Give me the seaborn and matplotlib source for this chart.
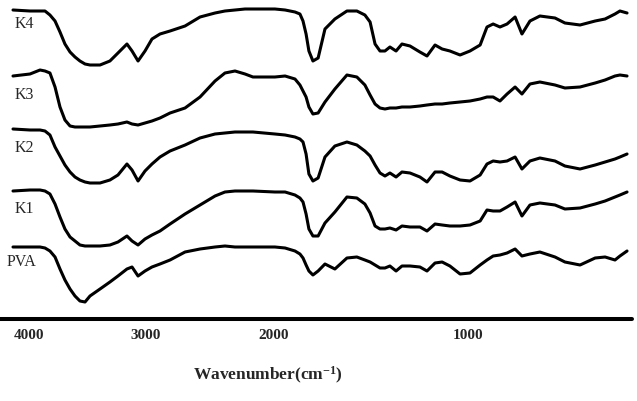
import numpy as np
import pandas as pd
import matplotlib
matplotlib.use("Agg")
import matplotlib.pyplot as plt
import seaborn as sns

# wavenumber grid (cm-1) and offset transmittance of each sample
wavenumber = [4000, 3856, 3771, 3729, 3687, 3644, 3602, 3560, 3517, 3475,
              3433, 3390, 3348, 3263, 3179, 3111, 3035, 2992, 2941, 2882,
              2823, 2755, 2670, 2543, 2416, 2289, 2205, 2120, 2035, 1984,
              1891, 1848, 1806, 1785, 1772, 1759, 1747, 1730, 1708, 1679,
              1637, 1586, 1544, 1510, 1488, 1467, 1446, 1425, 1404, 1378,
              1353, 1319, 1277, 1247, 1213, 1183, 1150, 1107, 1065, 1022,
              993, 967, 938, 908, 874, 845, 811, 769, 705, 663,
              599, 535, 493, 451, 430, 400]

k4 = [309, 308, 308, 308, 304, 298, 287, 275, 267, 262,
      258, 255, 254, 254, 258, 266, 275, 268, 258, 268,
      280, 285, 288, 293, 302, 306, 308, 309, 310, 310,
      310, 309, 307, 305, 298, 285, 268, 258, 261, 290,
      300, 308, 308, 304, 297, 275, 268, 268, 272, 268,
      275, 273, 267, 263, 274, 270, 268, 264, 268, 274,
      292, 295, 292, 295, 302, 285, 298, 303, 301, 296,
      294, 298, 300, 305, 308, 306]

k3 = [243, 245, 249, 248, 246, 232, 212, 199, 193, 192,
      192, 192, 192, 193, 194, 195, 197, 195, 194, 196,
      198, 201, 206, 211, 222, 238, 246, 248, 245, 242,
      242, 243, 240, 234, 228, 222, 212, 205, 206, 217,
      230, 244, 242, 234, 224, 215, 211, 210, 211, 211,
      212, 212, 213, 214, 215, 215, 216, 217, 218, 220,
      222, 222, 218, 225, 232, 225, 235, 237, 234, 231,
      232, 236, 239, 243, 244, 243]

k2 = [190, 189, 189, 188, 184, 172, 163, 154, 147, 142,
      139, 137, 136, 136, 139, 144, 155, 149, 138, 148,
      155, 162, 168, 174, 181, 185, 186, 187, 187, 187,
      185, 184, 182, 180, 177, 165, 145, 138, 141, 162,
      173, 177, 174, 168, 163, 154, 146, 143, 146, 142,
      147, 146, 142, 137, 147, 147, 143, 139, 138, 144,
      155, 158, 157, 158, 162, 150, 158, 161, 158, 153,
      150, 154, 157, 160, 162, 165]

k1 = [128, 129, 129, 128, 125, 115, 102, 90, 82, 78,
      74, 73, 73, 73, 74, 77, 83, 78, 74, 80,
      84, 88, 95, 105, 114, 123, 127, 128, 128, 128,
      127, 127, 124, 121, 117, 105, 90, 83, 83, 96,
      107, 122, 121, 115, 106, 93, 90, 90, 91, 89,
      93, 92, 92, 88, 95, 94, 93, 93, 94, 98,
      109, 108, 108, 112, 117, 103, 114, 116, 114, 110,
      111, 115, 118, 122, 124, 127]

pva = [72, 72, 72, 71, 68, 62, 50, 39, 30, 23,
       18, 17, 23, 30, 37, 43, 50, 52, 43, 48,
       52, 55, 59, 67, 70, 72, 73, 72, 72, 72,
       72, 71, 68, 65, 61, 54, 48, 44, 48, 55,
       50, 61, 62, 59, 57, 54, 51, 51, 53, 48,
       53, 53, 52, 48, 56, 57, 53, 45, 46, 54,
       59, 63, 64, 66, 70, 63, 65, 67, 62, 57,
       54, 61, 62, 59, 63, 68]

samples = ["K4", "K3", "K2", "K1", "PVA"]
series = [k4, k3, k2, k1, pva]

tick_labels = ["4000", "3000", "2000", "1000"]
tick_pos = [3864, 2874, 1895, 1074]


# spectrum is expanded 2x below 2000 cm-1
def fwd(w):
    w = np.asarray(w, float)
    return np.where(w >= 2000, w, 2 * w - 2000)


def inv(t):
    t = np.asarray(t, float)
    return np.where(t >= 2000, t, (t + 2000) / 2)


sns.set_style("white")
plt.rcParams["font.family"] = ["Liberation Serif", "DejaVu Serif"]
plt.rcParams["mathtext.fontset"] = "custom"
plt.rcParams["mathtext.rm"] = "Liberation Serif:bold"
plt.rcParams["mathtext.bf"] = "Liberation Serif:bold"
plt.rcParams["mathtext.default"] = "rm"

fig = plt.figure(figsize=(6.37, 4.02), dpi=100)
ax = fig.add_axes([0, 82 / 402, 632 / 637, 320 / 402])
ax.set_xscale("function", functions=(fwd, inv))

for name, vals in zip(samples, series):
    df = pd.DataFrame({"wavenumber": wavenumber, "T": vals})
    sns.lineplot(data=df, x="wavenumber", y="T", color="black", lw=2.2,
                 ax=ax, clip_on=False, solid_joinstyle="round",
                 solid_capstyle="round")

# sample names next to each trace
label_x = [3983, 3983, 3990, 3983, 4051]
label_y = [296, 225, 172, 111, 58]
for name, lx, ly in zip(samples, label_x, label_y):
    ax.text(lx, ly, name, fontsize=11.5, ha="left", va="center")

ax.set_xlim(4110, 379)
ax.set_ylim(0, 320)
ax.set_yticks([])
ax.set_ylabel("")
ax.set_xticks(tick_pos)
ax.set_xticklabels(tick_labels, fontweight="bold", fontsize=11)
ax.tick_params(axis="x", length=0, pad=6.5)
ax.minorticks_off()

for s in ["left", "right", "top"]:
    ax.spines[s].set_visible(False)
ax.spines["bottom"].set_linewidth(2.9)
ax.spines["bottom"].set_color("black")
ax.spines["bottom"].set_capstyle("round")

ax.set_xlabel("Wavenumber(cm$^{-1}$)", fontsize=12.5, fontweight="bold")
ax.xaxis.label.set_verticalalignment("center")
ax.xaxis.set_label_coords(268 / 632, -55 / 320)

fig.savefig("out.png", dpi=100, facecolor="white")
